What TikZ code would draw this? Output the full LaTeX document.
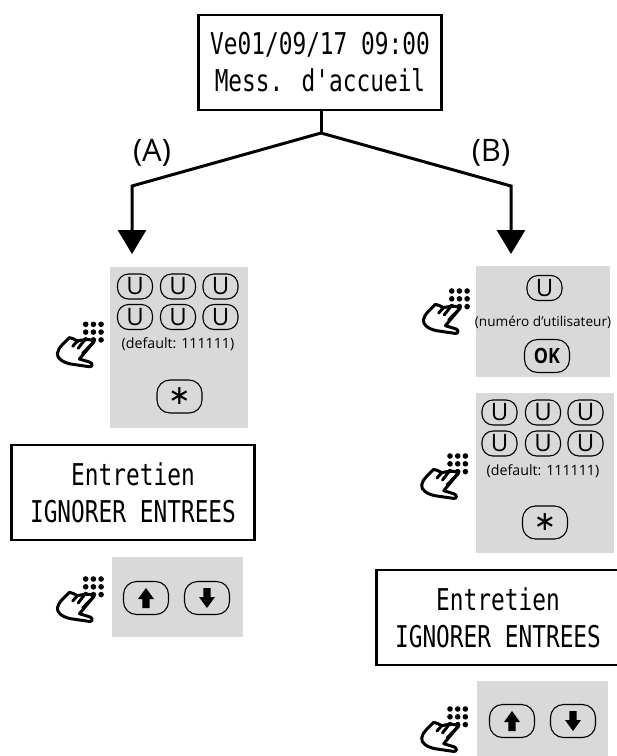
\documentclass[tikz,border=0pt]{standalone}
\usepackage{fontspec}
\setmainfont{Open Sans}
\newfontfamily\lcd[FakeStretch=0.76]{DejaVu Sans Mono}
\newfontfamily\sym{DejaVu Sans}
\newfontfamily\okfont[FakeStretch=0.85]{Open Sans}
\usetikzlibrary{arrows.meta}
\tikzset{
  lcdbox/.style={draw=black,line width=2.9pt,fill=white,inner sep=0pt,align=center,minimum height=95pt,font=\lcd\fontsize{30}{37}\selectfont},
  panel/.style={fill=panelgray,inner sep=0pt,anchor=north west},
  btn/.style={draw=black,line width=1.1pt,rounded corners=11pt,inner sep=0pt,anchor=center},
  ubtn/.style={btn,minimum width=35pt,minimum height=25pt,font=\fontsize{24}{24}\selectfont},
  bigbtn/.style={btn,minimum width=45pt,minimum height=33pt,rounded corners=13pt},
  starbtn/.style={bigbtn,font=\sym\fontsize{27}{27}\selectfont},
  note/.style={inner sep=0pt,font=\fontsize{14.2}{14}\selectfont},
  branch/.style={draw=black,line width=3pt},
  tag/.style={inner sep=0pt,font=\fontsize{31}{31}\selectfont},
  upglyph/.pic={\fill[black] (0,-10) -- (8,1) -- (3.7,1) -- (3.7,10) -- (-3.7,10) -- (-3.7,1) -- (-8,1) -- cycle;},
  downglyph/.pic={\fill[black] (0,10) -- (8,-1) -- (3.7,-1) -- (3.7,-10) -- (-3.7,-10) -- (-3.7,-1) -- (-8,-1) -- cycle;},
  handicon/.pic={
    \foreach \i in {0,7.7,15.4}{\foreach \j in {0,7.8,15.6}{\fill[black] (\i,\j) circle[radius=2.8];}}
    \draw[black,line width=3pt,line cap=round,line join=round,fill=white]
      (8.3,17.3) -- (-6.3,34.7) -- (4,37.8) .. controls (7.5,39) and (7,43) .. (3.5,42.4)
      -- (-15,39.7) .. controls (-23,38) and (-29,34) .. (-28.3,29)
      .. controls (-28,24) and (-21,18) .. (-16.3,13.3)
      .. controls (-13,14) and (-11,15) .. (-8.3,16.7)
      .. controls (-5,16) and (-3,15.5) .. (-1,15.5)
      .. controls (2,15) and (5,15) .. (8.3,17.3);
    \draw[black,line width=3pt,line cap=round] (-8.3,16.7) -- (-13,22)
      (-1,15.5) -- (-7.5,24) (8.3,17.3) -- (-3,29);
  }
}
\definecolor{panelgray}{HTML}{D9D9D9}
\begin{document}
\begin{tikzpicture}[x=1pt,y=-1pt]
\useasboundingbox (0,0) rectangle (617,756);
\fill[white] (0,0) rectangle (617,756);
% header and branches
\node[lcdbox,minimum width=243pt] (top) at (320,62.5) {Ve01/09/17 09:00\\Mess. d'accueil};
\coordinate (fork) at (321,133);
\coordinate (cornerA) at (132,186);
\coordinate (cornerB) at (511,186);
\coordinate (tipA) at (132,254);
\coordinate (tipB) at (511,254);
\draw[branch] (top.south -| fork) -- (fork);
\draw[branch,line join=miter,-{Triangle[length=24pt,width=28pt]}] (fork) -- (cornerA) -- (tipA);
\draw[branch,line join=miter,-{Triangle[length=24pt,width=28pt]}] (fork) -- (cornerB) -- (tipB);
\node[tag] (labelA) at (152,153) {(A)};
\node[tag] (labelB) at (491,153) {(B)};
% column A: code panel
\node[panel,minimum width=138pt,minimum height=161pt] (panelA1) at (110,267) {};
\node[ubtn] (a1) at (135,286.5) {U};
\node[ubtn] (a2) at (178,286.5) {U};
\node[ubtn] (a3) at (220.5,286.5) {U};
\node[ubtn] (a4) at (135,317) {U};
\node[ubtn] (a5) at (178,317) {U};
\node[ubtn] (a6) at (220.5,317) {U};
\node[note] (adef) at (178,344) {(default: 111111)};
\node[starbtn] (astar) at (179.5,396.5) {∗};
\pic (handA1) at (85.7,324.3) {handicon};
\node[lcdbox,minimum width=243pt] (entA) at (133,492.5) {Entretien\\IGNORER ENTREES};
\node[panel,minimum width=131pt,minimum height=80pt] (panelA2) at (112,557) {};
\node[bigbtn] (aup) at (146,598) {};
\pic at (aup.center) {upglyph};
\node[bigbtn] (adn) at (207,598) {};
\pic at (adn.center) {downglyph};
\pic (handA2) at (85.7,579) {handicon};
% column B
\node[panel,minimum width=134pt,minimum height=111pt] (panelB1) at (476,266) {};
\node[ubtn] (b0) at (544.5,288) {U};
\node[note,font=\fontsize{13.6}{14}\selectfont] (bnum) at (543,322) {(numéro d'utilisateur)};
\node[bigbtn,font=\okfont\bfseries\fontsize{21}{21}\selectfont] (bok) at (547,356) {OK};
\pic (handB1) at (451.7,291) {handicon};
\node[panel,minimum width=138pt,minimum height=160pt] (panelB2) at (476,393) {};
\node[ubtn] (c1) at (499.5,412.5) {U};
\node[ubtn] (c2) at (543,412.5) {U};
\node[ubtn] (c3) at (585.5,412.5) {U};
\node[ubtn] (c4) at (499.5,443.5) {U};
\node[ubtn] (c5) at (543,443.5) {U};
\node[ubtn] (c6) at (585.5,443.5) {U};
\node[note] (cdef) at (543,471) {(default: 111111)};
\node[starbtn] (cstar) at (545,522.5) {∗};
\pic (handB2) at (450,456) {handicon};
\node[lcdbox,minimum width=243pt] (entB) at (498,617.5) {Entretien\\IGNORER ENTREES};
\node[panel,minimum width=131pt,minimum height=75pt] (panelB3) at (477,681) {};
\node[bigbtn] (bup) at (512,721) {};
\pic at (bup.center) {upglyph};
\node[bigbtn] (bdn) at (573,721) {};
\pic at (bdn.center) {downglyph};
\pic (handB3) at (450,709) {handicon};
\end{tikzpicture}
\end{document}
